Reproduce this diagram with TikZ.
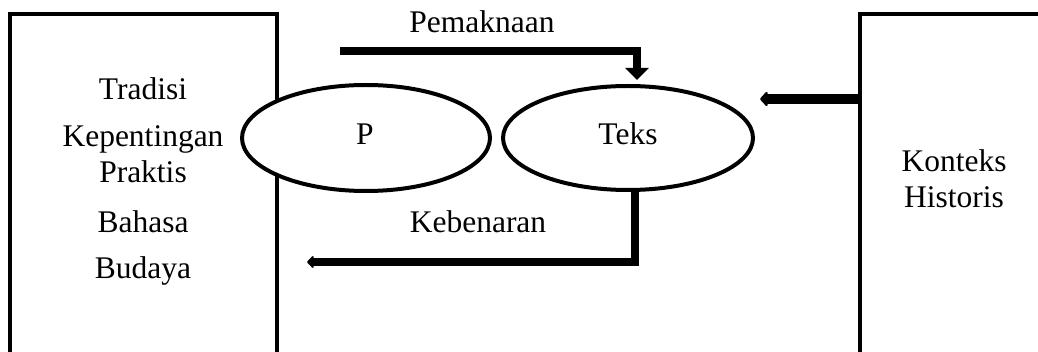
\documentclass[tikz,border=0pt]{standalone}
\usepackage{fontspec}
\setmainfont{Liberation Serif}
\usetikzlibrary{arrows.meta,shapes.geometric}
\begin{document}
\begin{tikzpicture}[x=1pt,y=1pt,
  lbl/.style={font=\fontsize{31.5}{36}\selectfont, inner sep=0pt, anchor=base},
  bigbox/.style={draw, line width=4pt, inner sep=0pt, rectangle},
  oval/.style={draw, fill=white, line width=4pt, ellipse, inner sep=0pt},
  flow/.style={line width=8pt, -{Triangle[width=23pt,length=12pt]}},
  flowb/.style={line width=10pt, -{Triangle[width=17pt,length=8pt,round]}},
  flowc/.style={line width=8pt, -{Triangle[width=14pt,length=7pt,round]}}]
\useasboundingbox (0,0) rectangle (1038,351);
\clip (0,0) rectangle (1038,351);
% boxes
\node[bigbox, minimum width=267pt, minimum height=346pt] (kiri) at (143.5,164) {};
\node[bigbox, minimum width=190pt, minimum height=346pt] (kanan) at (955,164) {};
% box texts
\node[lbl] (t1) at (143,251) {Tradisi};
\node[lbl] (t2) at (143,204) {Kepentingan};
\node[lbl] (t3) at (143,168) {Praktis};
\node[lbl] (t4) at (143,119) {Bahasa};
\node[lbl] (t5) at (143,73) {Budaya};
\node[lbl] (k1) at (954,179) {Konteks};
\node[lbl] (k2) at (954,143) {Historis};
% ellipses
\node[oval, minimum width=248pt, minimum height=106pt] (p) at (366,213) {};
\node[oval, minimum width=250pt, minimum height=104pt] (teks) at (628,213) {};
\node[lbl] (plbl) at (365,206) {P};
\node[lbl] (tlbl) at (628,206) {Teks};
% labels
\node[lbl] (pem) at (482,318) {Pemaknaan};
\node[lbl] (keb) at (478,118) {Kebenaran};
% arrows
\coordinate (s1) at (340,300);
\coordinate (e1) at (637,271);
\draw[flow] (s1) -| (e1);
\coordinate (s2) at (kanan.west |- 0,252);
\coordinate (e2) at (760,252);
\draw[flowb] (s2) -- (e2);
\coordinate (s3) at (635,161);
\coordinate (e3) at (307,89);
\draw[flowc] (s3) |- (e3);
\end{tikzpicture}
\end{document}
